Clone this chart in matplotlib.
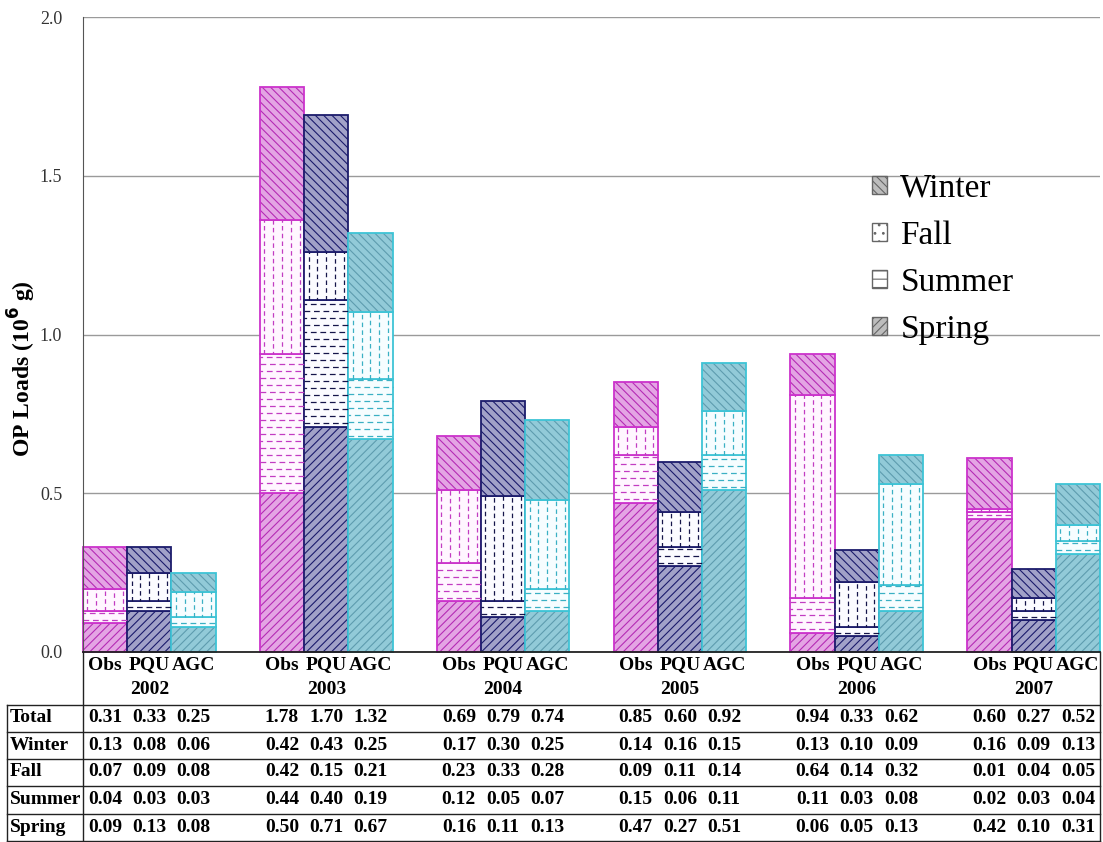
import matplotlib.pyplot as plt
import numpy as np
from matplotlib.patches import Patch
from matplotlib.lines import Line2D
from matplotlib.transforms import blended_transform_factory

years = ["2002", "2003", "2004", "2005", "2006", "2007"]
models = ["Obs", "PQU", "AGC"]

# seasonal OP loads (10^6 g), one row per year, columns Obs / PQU / AGC
spring = np.array([[0.09, 0.13, 0.08], [0.50, 0.71, 0.67], [0.16, 0.11, 0.13],
                   [0.47, 0.27, 0.51], [0.06, 0.05, 0.13], [0.42, 0.10, 0.31]])
summer = np.array([[0.04, 0.03, 0.03], [0.44, 0.40, 0.19], [0.12, 0.05, 0.07],
                   [0.15, 0.06, 0.11], [0.11, 0.03, 0.08], [0.02, 0.03, 0.04]])
fall = np.array([[0.07, 0.09, 0.08], [0.42, 0.15, 0.21], [0.23, 0.33, 0.28],
                 [0.09, 0.11, 0.14], [0.64, 0.14, 0.32], [0.01, 0.04, 0.05]])
winter = np.array([[0.13, 0.08, 0.06], [0.42, 0.43, 0.25], [0.17, 0.30, 0.25],
                   [0.14, 0.16, 0.15], [0.13, 0.10, 0.09], [0.16, 0.09, 0.13]])
total = np.array([[0.31, 0.33, 0.25], [1.78, 1.70, 1.32], [0.69, 0.79, 0.74],
                  [0.85, 0.60, 0.92], [0.94, 0.33, 0.62], [0.60, 0.27, 0.52]])

# stacking order, bottom to top
stack = [("Spring", spring), ("Summer", summer), ("Fall", fall), ("Winter", winter)]
table_rows = [("Total", total), ("Winter", winter), ("Fall", fall),
              ("Summer", summer), ("Spring", spring)]

styles = {
    "Obs": dict(edge="#CC33CC", fill="#E4A4E4", hatch="#B42CB4", dash="#C23CC2", blank="#FFF6FF"),
    "PQU": dict(edge="#1C1C6C", fill="#A2A2C8", hatch="#1C1C6C", dash="#15154A", blank="#FBFBFF"),
    "AGC": dict(edge="#3EC4D6", fill="#92CAD8", hatch="#5E9CAE", dash="#3AB0C4", blank="#F6FDFF"),
}

SERIF = "Liberation Serif"
plt.rcParams["font.family"] = SERIF
plt.rcParams["hatch.linewidth"] = 0.8

W, H = 1103, 842
fig = plt.figure(figsize=(W / 100, H / 100), dpi=100)
ax = fig.add_axes([83 / W, 1 - 652 / H, 1017 / W, 635 / H])

ROW_STEP = 0.022
TABLE_FS = 14


def draw_dashes(ax, rect, color, vertical):
    x0, y0 = rect.get_x(), rect.get_y()
    w, h = rect.get_width(), rect.get_height()
    if vertical:
        for i, f in enumerate([0.1, 0.3, 0.5, 0.7, 0.9]):
            ax.plot([x0 + f * w] * 2, [y0, y0 + h], color=color, lw=0.9,
                    linestyle=(1.5 * (i % 2), (3.6, 2.6)), solid_capstyle="butt")
    else:
        for j, yy in enumerate(np.arange(y0 + ROW_STEP / 2, y0 + h, ROW_STEP)):
            ax.plot([x0, x0 + w], [yy, yy], color=color, lw=0.9,
                    linestyle=(2.5 * (j % 2), (4.6, 3.0)), solid_capstyle="butt")


group_x = np.arange(len(years)) * 4
for k, model in enumerate(models):
    st = styles[model]
    x = group_x + k
    bottom = np.zeros(len(years))
    for season, values in stack:
        vals = values[:, k]
        if season in ("Spring", "Winter"):
            hatch = "////" if season == "Spring" else "\\\\\\\\"
            ax.bar(x, vals, 1.0, bottom=bottom, color=st["fill"],
                   edgecolor=st["hatch"], hatch=hatch, linewidth=0)
        else:
            bars = ax.bar(x, vals, 1.0, bottom=bottom, color=st["blank"], linewidth=0)
            for rect in bars:
                draw_dashes(ax, rect, st["dash"], vertical=(season == "Fall"))
        ax.bar(x, vals, 1.0, bottom=bottom, fill=False, edgecolor=st["edge"],
               linewidth=1.3, clip_on=False)
        bottom += vals

ax.set_xlim(-0.5, 22.5)
ax.set_ylim(0, 2.0)
ax.set_yticks([0.0, 0.5, 1.0, 1.5, 2.0])
ax.set_yticklabels([f"{v:.1f}" for v in [0.0, 0.5, 1.0, 1.5, 2.0]])
ax.set_xticks([])
ax.tick_params(axis="y", length=0, pad=15, labelsize=13, labelcolor="#333333")
ax.grid(axis="y", color="#9a9a9a", linewidth=1.0)
ax.set_axisbelow(True)
for side in ("top", "right"):
    ax.spines[side].set_visible(False)
ax.spines["left"].set_color("#555555")
ax.spines["bottom"].set_color("#222222")
ax.spines["bottom"].set_linewidth(1.3)

fig.text(22 / W, 1 - 369 / H, "OP Loads (10$^{\\mathbf{6}}$ g)", rotation=90,
         ha="center", va="center", fontsize=17, fontweight="bold")

# legend
handles = [
    Patch(facecolor="#bdbdbd", edgecolor="#666666", hatch="\\\\\\\\", label="Winter"),
    Patch(facecolor="white", edgecolor="#666666", hatch="..", label="Fall"),
    Patch(facecolor="white", edgecolor="#666666", hatch="--", label="Summer"),
    Patch(facecolor="#bdbdbd", edgecolor="#666666", hatch="////", label="Spring"),
]
fig.legend(handles=handles, loc="upper left", bbox_to_anchor=(872 / W, 1 - 173 / H),
           frameon=False, fontsize=24, handlelength=0.45, handleheight=0.45,
           handletextpad=0.4, labelspacing=0.5, borderpad=0, borderaxespad=0)

# data table under the bars
tx = blended_transform_factory(ax.transData, fig.transFigure)
fy = lambda yp: 1 - yp / H
for g, year in enumerate(years):
    for k, model in enumerate(models):
        fig.text(group_x[g] + k, fy(665), model, transform=tx, ha="center",
                 va="center", fontsize=TABLE_FS, fontweight="bold")
    fig.text(group_x[g] + 1, fy(690), year, transform=tx, ha="center",
             va="center", fontsize=TABLE_FS, fontweight="bold")

row_centers = [718, 745, 772, 800, 828]
for (name, values), yc in zip(table_rows, row_centers):
    fig.text(10 / W, fy(yc), name, ha="left", va="center", fontsize=TABLE_FS,
             fontweight="bold")
    for g in range(len(years)):
        for k in range(len(models)):
            fig.text(group_x[g] + k, fy(yc), f"{values[g, k]:.2f}", transform=tx,
                     ha="center", va="center", fontsize=TABLE_FS, fontweight="bold")

line_kw = dict(color="#222222", linewidth=1.0, transform=fig.transFigure)
for yp in [705, 732, 759, 786, 814, 841]:
    fig.add_artist(Line2D([7 / W, 1100 / W], [fy(yp), fy(yp)], **line_kw))
fig.add_artist(Line2D([7 / W, 7 / W], [fy(705), fy(841)], **line_kw))
fig.add_artist(Line2D([83 / W, 83 / W], [fy(652), fy(841)], **line_kw))
fig.add_artist(Line2D([1100 / W, 1100 / W], [fy(652), fy(841)], **line_kw))

fig.savefig("out.png", dpi=100)
